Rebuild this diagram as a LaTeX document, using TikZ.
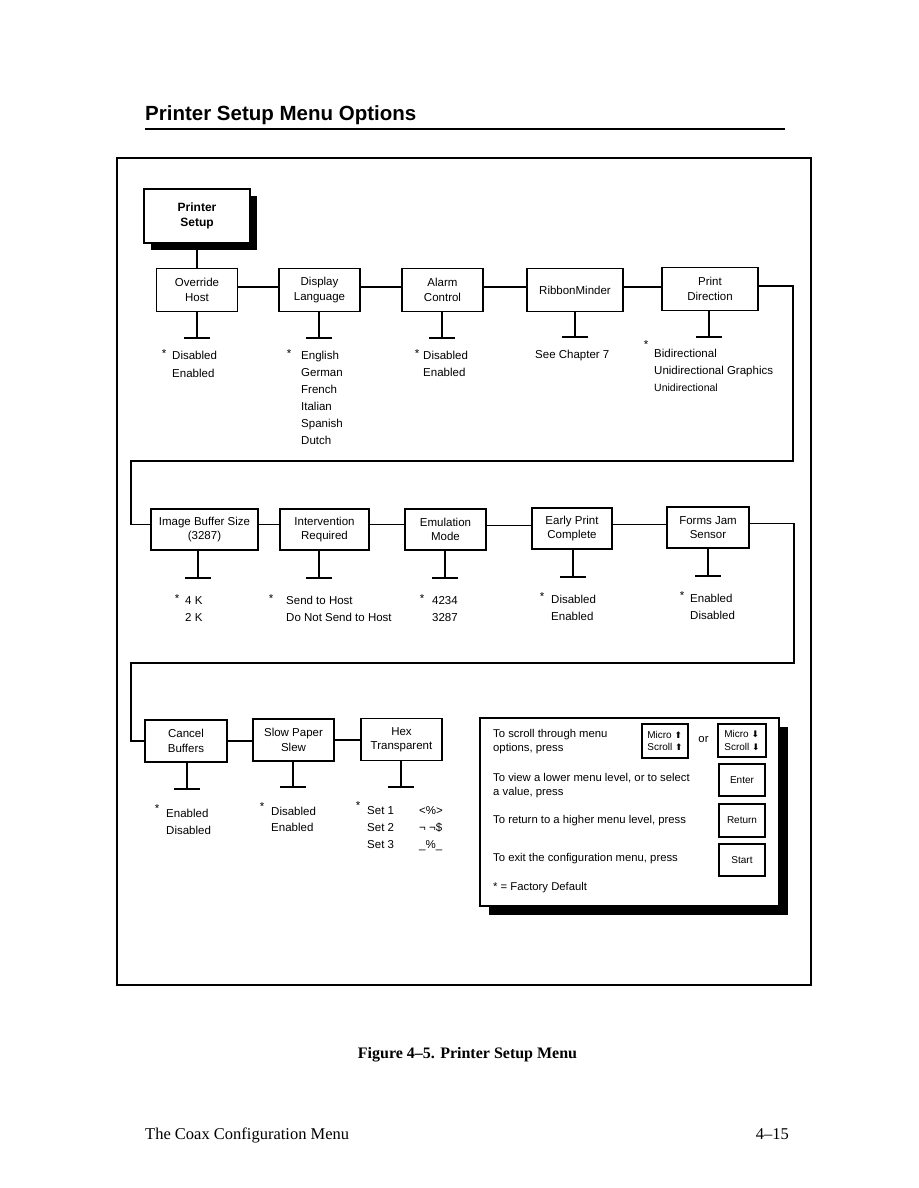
\documentclass[tikz,border=0pt]{standalone}
\usepackage{fontspec}
\setmainfont{Liberation Sans}
\newfontfamily\seriffont{Liberation Serif}
\newfontfamily\symfont{DejaVu Sans}
\usetikzlibrary{shadows}
\newcommand\teebar[3]{\coordinate (#1b) at (#2,#3);
  \draw[wire] (#1.south -| #1b) -- (#1b);
  \draw[wire] ([xshift=-13pt]#1b) -- ([xshift=13pt]#1b);}
\newcommand\hlink[3]{\draw[wire] ([yshift=#3pt]#1.east) -- ([yshift=#3pt]#1.east -| #2.west);}
\begin{document}
\begin{tikzpicture}[x=1pt,y=-1pt,
  mbox/.style={draw, fill=white, line width=1.1pt, align=center, inner sep=0pt, font=\fontsize{11.5}{14.5}\selectfont},
  opt/.style={anchor=base west, inner sep=0pt, font=\fontsize{11.5}{14}\selectfont},
  star/.style={anchor=base, inner sep=0pt, font=\fontsize{11.5}{14}\selectfont},
  wire/.style={line width=1.1pt},
  keybox/.style={draw, line width=1.1pt, align=left, inner sep=0pt, font=\fontsize{10}{12.5}\selectfont},
  lg/.style={anchor=base west, inner sep=0pt, font=\fontsize{11.3}{13}\selectfont}]
\useasboundingbox[fill=white] (0,0) rectangle (918,1188);

% title
\node[anchor=base west, inner sep=0pt, font=\fontsize{20.5}{24}\selectfont\bfseries] (title) at (145,121) {Printer Setup Menu Options};
\coordinate (ruleL) at (145,129);
\coordinate (ruleR) at (785,129);
\draw[line width=1.8pt] (ruleL) -- (ruleR);

% frame
\node[draw, line width=1.2pt, minimum width=694pt, minimum height=827pt, inner sep=0pt] (frame) at (464,571.5) {};

% root
\node[mbox, line width=1.2pt, minimum width=106pt, minimum height=54pt, font=\fontsize{12}{15}\selectfont\bfseries,
  drop shadow={shadow xshift=7pt, shadow yshift=-7pt, opacity=1, fill=black}] (ps) at (197,216) {Printer\\Setup};

% row 1
\node[mbox, minimum width=81pt, minimum height=43pt] (oh) at (197,290) {Override\\Host};
\node[mbox, minimum width=81pt, minimum height=43pt] (dl) at (319.5,290) {Display\\Language};
\node[mbox, minimum width=81pt, minimum height=43pt] (ac) at (442.5,290) {Alarm\\Control};
\node[mbox, minimum width=96pt, minimum height=43pt] (rm) at (575,290) {RibbonMinder};
\node[mbox, minimum width=96pt, minimum height=43pt] (pd) at (710,289) {Print\\Direction};
\draw[wire] (ps.south) -- (oh.north);
\hlink{oh}{dl}{3}
\hlink{dl}{ac}{3}
\hlink{ac}{rm}{3}
\hlink{rm}{pd}{3}
\teebar{oh}{197}{338}
\teebar{dl}{319}{338}
\teebar{ac}{442}{338}
\teebar{rm}{575}{337}
\teebar{pd}{709}{337}

\node[star] (s1) at (164,357) {*};
\node[opt] (o1a) at (172,359) {Disabled};
\node[opt] (o1b) at (172,377) {Enabled};
\node[star] (s2) at (289,357) {*};
\node[opt] (o2a) at (301,359) {English};
\node[opt] (o2b) at (301,376) {German};
\node[opt] (o2c) at (301,393) {French};
\node[opt] (o2d) at (301,410) {Italian};
\node[opt] (o2e) at (301,427) {Spanish};
\node[opt] (o2f) at (301,444) {Dutch};
\node[star] (s3) at (417,357) {*};
\node[opt] (o3a) at (423,359) {Disabled};
\node[opt] (o3b) at (423,376) {Enabled};
\node[opt] (o4a) at (535,358) {See Chapter 7};
\node[star] (s5) at (646,348) {*};
\node[opt] (o5a) at (654,357) {Bidirectional};
\node[opt] (o5b) at (654,374) {Unidirectional Graphics};
\node[opt, font=\fontsize{10.5}{13}\selectfont] (o5c) at (654,391) {Unidirectional};

% row 2
\node[mbox, minimum width=107pt, minimum height=41pt] (ib) at (204.5,529.5) {Image Buffer Size\\(3287)};
\node[mbox, minimum width=89pt, minimum height=41pt] (ir) at (324.5,529.5) {Intervention\\Required};
\node[mbox, minimum width=81pt, minimum height=41pt] (em) at (445.5,529.5) {Emulation\\Mode};
\node[mbox, minimum width=80pt, minimum height=41pt] (ep) at (572,528.5) {Early Print\\Complete};
\node[mbox, minimum width=82pt, minimum height=41pt] (fj) at (708,527.5) {Forms Jam\\Sensor};
\hlink{ib}{ir}{5}
\hlink{ir}{em}{5}
\hlink{em}{ep}{4}
\hlink{ep}{fj}{4}
\teebar{ib}{198}{578}
\teebar{ir}{319}{578}
\teebar{em}{445}{578}
\teebar{ep}{573}{577}
\teebar{fj}{708}{576}

% loop 1
\coordinate (lp1a) at (793,461);
\coordinate (lp1b) at (131,524.5);
\draw[wire] ([yshift=3pt]pd.east) -| (lp1a) -| (lp1b) -- (lp1b -| ib.west);

\node[star] (s6) at (177,602) {*};
\node[opt] (o6a) at (185,604) {4 K};
\node[opt] (o6b) at (185,621) {2 K};
\node[star] (s7) at (271,602) {*};
\node[opt] (o7a) at (286,604) {Send to Host};
\node[opt] (o7b) at (286,621) {Do Not Send to Host};
\node[star] (s8) at (422,602) {*};
\node[opt] (o8a) at (432,604) {4234};
\node[opt] (o8b) at (432,621) {3287};
\node[star] (s9) at (542,600) {*};
\node[opt] (o9a) at (551,603) {Disabled};
\node[opt] (o9b) at (551,620) {Enabled};
\node[star] (s10) at (682,599) {*};
\node[opt] (o10a) at (690,602) {Enabled};
\node[opt] (o10b) at (690,619) {Disabled};

% row 3
\node[mbox, minimum width=82pt, minimum height=42pt] (cb) at (186,741) {Cancel\\Buffers};
\node[mbox, minimum width=81pt, minimum height=42pt] (sp) at (293.5,740) {Slow Paper\\Slew};
\node[mbox, minimum width=81pt, minimum height=42pt] (ht) at (401.5,739.5) {Hex\\Transparent};
\hlink{cb}{sp}{0}
\hlink{sp}{ht}{0}
\teebar{cb}{187}{789}
\teebar{sp}{293}{787}
\teebar{ht}{401}{787}

% loop 2
\coordinate (lp2a) at (794,663);
\coordinate (lp2b) at (131,741);
\draw[wire] ([yshift=4pt]fj.east) -| (lp2a) -| (lp2b) -- (lp2b -| cb.west);

\node[star] (s11) at (157,812) {*};
\node[opt] (o11a) at (166,817) {Enabled};
\node[opt] (o11b) at (166,834) {Disabled};
\node[star] (s12) at (262,810) {*};
\node[opt] (o12a) at (271,815) {Disabled};
\node[opt] (o12b) at (271,831) {Enabled};
\node[star] (s13) at (358,809) {*};
\node[opt] (o13a) at (367,814) {Set 1};
\node[opt] (o13b) at (367,831) {Set 2};
\node[opt] (o13c) at (367,848) {Set 3};
\node[opt] (o13d) at (419,814) {<\%>};
\node[opt] (o13e) at (419,831) {¬ ¬\$};
\node[opt] (o13f) at (419,848) {\_\%\_};

% legend
\node[draw, fill=white, line width=1.1pt, minimum width=299pt, minimum height=188pt, inner sep=0pt,
  drop shadow={shadow xshift=9pt, shadow yshift=-9pt, opacity=1, fill=black}] (leg) at (629.5,812) {};
\node[lg] (l1) at (493,737) {To scroll through menu};
\node[lg] (l2) at (493,751) {options, press};
\node[lg] (l3) at (493,781) {To view a lower menu level, or to select};
\node[lg] (l4) at (493,795) {a value, press};
\node[lg] (l5) at (493,823) {To return to a higher menu level, press};
\node[lg] (l6) at (493,861) {To exit the configuration menu, press};
\node[lg] (l7) at (493,890) {* = Factory Default};
\node[keybox, minimum width=46pt, minimum height=34pt] (k1) at (665,741) {Micro {\symfont\fontsize{9}{12}\selectfont ⬆}\\Scroll {\symfont\fontsize{9}{12}\selectfont ⬆}};
\node[lg, anchor=center] (or) at (703.5,740) {or};
\node[keybox, minimum width=48pt, minimum height=33pt] (k2) at (742,740.5) {Micro {\symfont\fontsize{9}{12}\selectfont ⬇}\\Scroll {\symfont\fontsize{9}{12}\selectfont ⬇}};
\node[keybox, minimum width=46pt, minimum height=32pt] (k3) at (742,780) {Enter};
\node[keybox, minimum width=46pt, minimum height=33pt] (k4) at (742,820.5) {Return};
\node[keybox, minimum width=46pt, minimum height=32pt] (k5) at (742,860) {Start};

% caption and footer
\node[anchor=base, inner sep=0pt, font=\seriffont\fontsize{16}{19}\selectfont\bfseries] (cap) at (467.5,1058) {Figure 4–5. Printer Setup Menu};
\node[anchor=base west, inner sep=0pt, font=\seriffont\fontsize{16.5}{19}\selectfont] (foot) at (145,1139) {The Coax Configuration Menu};
\node[anchor=base east, inner sep=0pt, font=\seriffont\fontsize{16.5}{19}\selectfont] (pg) at (789,1139) {4–15};
\end{tikzpicture}
\end{document}
